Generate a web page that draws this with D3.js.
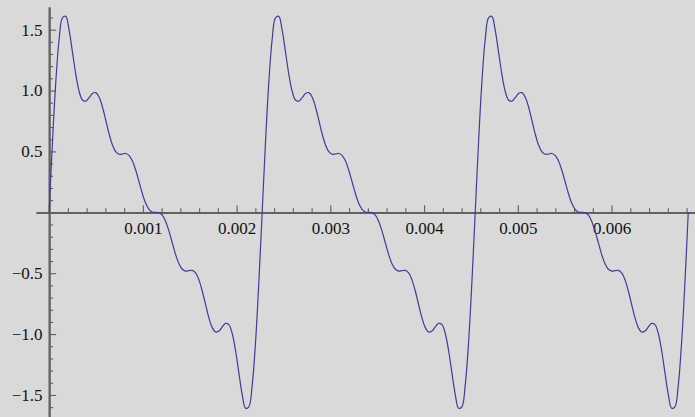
<!DOCTYPE html>
<html>
<head>
<meta charset="utf-8">
<script src="https://cdn.jsdelivr.net/npm/d3@7"></script>
<style>
  html, body { margin: 0; padding: 0; background: #d9d9d9; }
  svg { display: block; }
  svg text.ticklabel { font-family: "Liberation Serif", "Times New Roman", Times, serif !important; font-size: 17px !important; }
</style>
</head>
<body>
<svg id="chart" width="695" height="417"></svg>
<script>
// Signal sampled every 1/(440*64) s, three full cycles of the 440 Hz waveform
const sampleStep = 1 / (440 * 64);
const signal = [
  0, 0.575, 1.069, 1.419, 1.597, 1.609, 1.496, 1.318, 1.135, 0.995, 0.922, 0.912, 0.941, 0.975, 0.983, 0.947,
  0.867, 0.758, 0.646, 0.555, 0.498, 0.477, 0.479, 0.483, 0.468, 0.423, 0.347, 0.251, 0.154, 0.075, 0.024, 0.003,
  0, -0.003, -0.024, -0.075, -0.154, -0.251, -0.347, -0.423, -0.468, -0.483, -0.479, -0.477, -0.498, -0.555, -0.646, -0.758,
  -0.867, -0.947, -0.983, -0.975, -0.941, -0.912, -0.922, -0.995, -1.135, -1.318, -1.496, -1.609, -1.597, -1.419, -1.069, -0.575,
  0, 0.575, 1.069, 1.419, 1.597, 1.609, 1.496, 1.318, 1.135, 0.995, 0.922, 0.912, 0.941, 0.975, 0.983, 0.947,
  0.867, 0.758, 0.646, 0.555, 0.498, 0.477, 0.479, 0.483, 0.468, 0.423, 0.347, 0.251, 0.154, 0.075, 0.024, 0.003,
  0, -0.003, -0.024, -0.075, -0.154, -0.251, -0.347, -0.423, -0.468, -0.483, -0.479, -0.477, -0.498, -0.555, -0.646, -0.758,
  -0.867, -0.947, -0.983, -0.975, -0.941, -0.912, -0.922, -0.995, -1.135, -1.318, -1.496, -1.609, -1.597, -1.419, -1.069, -0.575,
  0, 0.575, 1.069, 1.419, 1.597, 1.609, 1.496, 1.318, 1.135, 0.995, 0.922, 0.912, 0.941, 0.975, 0.983, 0.947,
  0.867, 0.758, 0.646, 0.555, 0.498, 0.477, 0.479, 0.483, 0.468, 0.423, 0.347, 0.251, 0.154, 0.075, 0.024, 0.003,
  0, -0.003, -0.024, -0.075, -0.154, -0.251, -0.347, -0.423, -0.468, -0.483, -0.479, -0.477, -0.498, -0.555, -0.646, -0.758,
  -0.867, -0.947, -0.983, -0.975, -0.941, -0.912, -0.922, -0.995, -1.135, -1.318, -1.496, -1.609, -1.597, -1.419, -1.069, -0.575,
  0
];

// Tick values
const xMajorTicks = [0.001, 0.002, 0.003, 0.004, 0.005, 0.006];
const xMinorTicks = [0.0002, 0.0004, 0.0006, 0.0008, 0.0012, 0.0014, 0.0016, 0.0018,
  0.0022, 0.0024, 0.0026, 0.0028, 0.0032, 0.0034, 0.0036, 0.0038,
  0.0042, 0.0044, 0.0046, 0.0048, 0.0052, 0.0054, 0.0056, 0.0058,
  0.0062, 0.0064, 0.0066, 0.0068];
const yMajorTicks = [-1.5, -1.0, -0.5, 0.5, 1.0, 1.5];
const yMinorTicks = [-1.6, -1.4, -1.3, -1.2, -1.1, -0.9, -0.8, -0.7, -0.6, -0.4, -0.3, -0.2, -0.1,
  0.1, 0.2, 0.3, 0.4, 0.6, 0.7, 0.8, 0.9, 1.1, 1.2, 1.3, 1.4, 1.6];

const svg = d3.select("#chart");
const W = 695, H = 417;

const x = d3.scaleLinear().domain([-0.00014, 0.00689]).range([36, W]);
const y = d3.scaleLinear().domain([-1.681, 1.686]).range([H, 7]);

svg.append("rect").attr("width", W).attr("height", H).attr("fill", "#d9d9d9");

const axisColor = "#5e5e5e";
const minus = s => s.replace("-", "\u2212");

// x axis: ticks point upward, labels below
const gx = svg.append("g").attr("transform", `translate(0,${y(0)})`);
gx.append("g").call(d3.axisTop(x).tickValues(xMinorTicks).tickSize(4).tickFormat("").tickSizeOuter(0));
gx.append("g").call(d3.axisTop(x).tickValues(xMajorTicks).tickSize(7).tickFormat("").tickSizeOuter(0));
const gxl = gx.append("g")
  .call(d3.axisBottom(x).tickValues(xMajorTicks).tickSize(0).tickPadding(9.6).tickFormat(d3.format(".3f")).tickSizeOuter(0));

// y axis: ticks point right, labels left
const gy = svg.append("g").attr("transform", `translate(${x(0)},0)`);
gy.append("g").call(d3.axisRight(y).tickValues(yMinorTicks).tickSize(4).tickFormat("").tickSizeOuter(0));
gy.append("g").call(d3.axisRight(y).tickValues(yMajorTicks).tickSize(7).tickFormat("").tickSizeOuter(0));
const gyl = gy.append("g")
  .call(d3.axisLeft(y).tickValues(yMajorTicks).tickSize(0).tickPadding(6.5)
    .tickFormat(d => minus(d3.format(".1f")(d))).tickSizeOuter(0));

svg.selectAll(".tick line").attr("stroke", axisColor).attr("stroke-width", 1.1);
svg.selectAll(".domain").attr("stroke", axisColor).attr("stroke-width", 1.8);
gxl.select(".domain").remove();
gyl.select(".domain").remove();
[gxl, gyl].forEach(g => {
  g.selectAll("text").classed("ticklabel", true).attr("fill", "#111");
});

// waveform
const pts = signal.map((v, i) => [i * sampleStep, v]);
const line = d3.line().x(d => x(d[0])).y(d => y(d[1])).curve(d3.curveCatmullRom.alpha(0.5));
svg.append("path")
  .datum(pts)
  .attr("fill", "none")
  .attr("stroke", "#3d3d9b")
  .attr("stroke-width", 1.2)
  .attr("d", line);
</script>
</body>
</html>
